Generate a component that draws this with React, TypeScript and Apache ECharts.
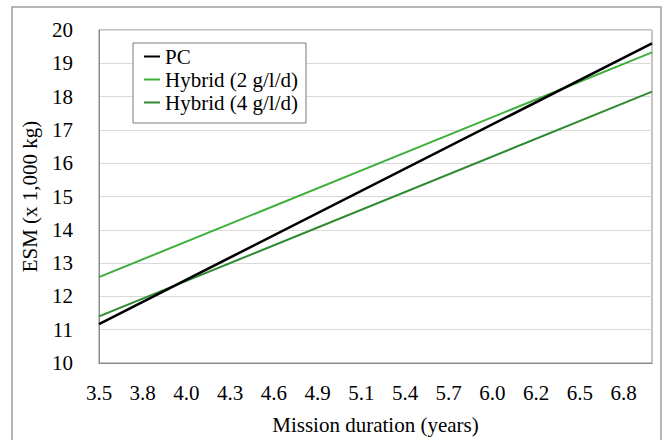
import React, { useEffect, useRef } from "react";
import * as echarts from "echarts";

// Tick labels on the mission-duration axis (years, as printed)
const xTickLabels = ["3.5", "3.8", "4.0", "4.3", "4.6", "4.9", "5.1", "5.4", "5.7", "6.0", "6.2", "6.5", "6.8"];
// Axis extent, counted in tick steps from the first tick
const xAxisEnd = 12.65;
// Series endpoints (x in tick steps, ESM in 1,000 kg)
const xPoints = [0, xAxisEnd];
const pcValues = [11.17, 19.6];
const hybrid2Values = [12.58, 19.33];
const hybrid4Values = [11.4, 18.15];

const seriesNames = ["PC", "Hybrid (2 g/l/d)", "Hybrid (4 g/l/d)"];
const seriesColors = ["#000000", "#3daf3a", "#2f8a32"];

const FONT = "Liberation Serif, serif";

export default function App() {
  const ref = useRef<HTMLDivElement>(null);
  useEffect(() => {
    if (!ref.current) return;
    const chart = echarts.init(ref.current, undefined, { renderer: "svg" });
    const mk = (vals: number[]) => xPoints.map((x, i) => [x, vals[i]]);
    const allVals = [pcValues, hybrid2Values, hybrid4Values];
    chart.setOption({
      animation: false,
      backgroundColor: "#ffffff",
      textStyle: { fontFamily: FONT },
      graphic: [
        {
          type: "rect",
          shape: { x: 12, y: 7, width: 649, height: 470 },
          style: { fill: "none", stroke: "#a0a0a0", lineWidth: 1.5 },
          silent: true,
        },
      ],
      grid: {
        left: 99,
        top: 30,
        right: 12,
        bottom: 72,
        show: true,
        borderColor: "#8a8a8a",
        borderWidth: 1,
        containLabel: false,
      },
      legend: {
        orient: "vertical",
        left: 133,
        top: 43,
        padding: [2, 8, 9, 11],
        itemGap: 0,
        itemWidth: 16,
        itemHeight: 2,
        backgroundColor: "#ffffff",
        borderColor: "#7a7a7a",
        borderWidth: 1,
        borderRadius: 0,
        textStyle: { fontFamily: FONT, fontSize: 21, color: "#000", lineHeight: 23 },
        data: seriesNames.map((n) => ({ name: n, icon: "rect" })),
      },
      xAxis: {
        type: "value",
        min: 0,
        max: xAxisEnd,
        interval: 1,
        name: "Mission duration (years)",
        nameLocation: "middle",
        nameGap: 51,
        nameTextStyle: { fontFamily: FONT, fontSize: 21, color: "#000" },
        axisLine: { show: true, lineStyle: { color: "#8a8a8a", width: 1 } },
        axisTick: { show: false },
        splitLine: { show: false },
        axisLabel: {
          fontFamily: FONT,
          fontSize: 21,
          color: "#000",
          margin: 19,
          showMaxLabel: false,
          formatter: (v: number) => {
            const i = Math.round(v);
            if (Math.abs(v - i) > 1e-6) return "";
            return xTickLabels[i] ?? "";
          },
        },
      },
      yAxis: {
        type: "value",
        min: 10,
        max: 20,
        interval: 1,
        name: "ESM (x 1,000 kg)",
        nameLocation: "middle",
        nameGap: 59,
        nameTextStyle: { fontFamily: FONT, fontSize: 21, color: "#000" },
        axisLine: { show: true, lineStyle: { color: "#8a8a8a", width: 1 } },
        axisTick: { show: false },
        splitLine: { show: true, lineStyle: { color: "#d9d9d9", width: 1 } },
        axisLabel: { fontFamily: FONT, fontSize: 21, color: "#000", margin: 26 },
      },
      series: seriesNames.map((name, i) => ({
        name,
        type: "line",
        data: mk(allVals[i]),
        symbol: "none",
        showSymbol: false,
        lineStyle: { color: seriesColors[i], width: i === 0 ? 2.6 : 2 },
        itemStyle: { color: seriesColors[i] },
        z: i === 0 ? 3 : 2,
      })),
    });
    return () => chart.dispose();
  }, []);
  return (
    <div
      ref={ref}
      style={{ position: "fixed", left: 0, top: 0, width: 664, height: 440 }}
    />
  );
}
